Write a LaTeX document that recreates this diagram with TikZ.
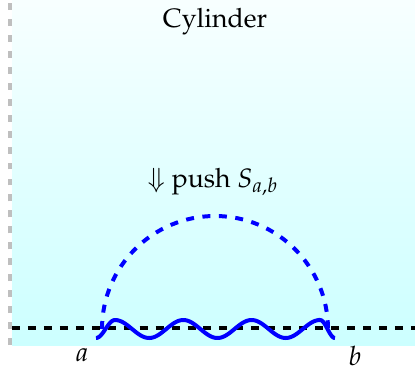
\documentclass[tikz,border=0pt]{standalone}
\usepackage[T1]{fontenc}
\usepackage{mathpazo}
\usetikzlibrary{calc}

\begin{document}
\begin{tikzpicture}[
x=0.376pt, y=0.376pt,
cyl/.style={
top color=cyan!3,
bottom color=cyan!20,
draw=none
},
seam/.style={
draw=gray!50,
line width=1.4pt,
dash pattern=on 2.6pt off 3.4pt
},
horizon/.style={
draw=black,
line width=1.2pt,
dash pattern=on 3pt off 3pt
},
halfcirc/.style={
draw=blue,
line width=1.5pt,
dash pattern=on 3pt off 3.2pt
},
wiggle/.style={
draw=blue,
line width=1.5pt
},
lbl/.style={
font=\normalsize,
inner sep=0pt
}
]
\useasboundingbox (0,0) rectangle (415,373);

% Cylinder background
\fill[cyl] (12,28) rectangle (415,373);
\draw[seam] (10,28) -- (10,373);

% Names
\node[lbl] (title) at (215,351) {Cylinder};
\node[lbl] (push) at (213,191) {$\Downarrow$ push $S_{a,b}$};

% Boundary
\coordinate (left) at (12,45);
\coordinate (right) at (415,45);
\draw[horizon] (left) -- (right);

% Half circle
\coordinate (mid) at (215,44);
\draw[halfcirc] ($(mid)+(-113,0)$) arc[start angle=180, end angle=0, radius=113];

% Wave
\draw[wiggle] plot[domain=96:115, samples=20, smooth]
(\x, {44 + 9*sin((\x-96)/19*180 - 90)})
-- plot[domain=115:320, samples=120, smooth]
(\x, {44 + 9*sin((\x-115)/68.3*360 + 90)})
-- plot[domain=320:335, samples=20, smooth]
(\x, {44 + 9*sin((\x-320)/15*180 + 90)});

% End points
\node[lbl, anchor=base] (a) at (82,12) {$a$};
\node[lbl, anchor=base] (b) at (355,8) {$b$};

\end{tikzpicture}
\end{document}
